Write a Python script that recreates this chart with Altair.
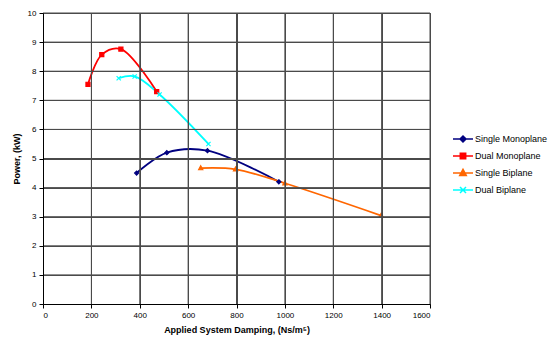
import altair as alt
import pandas as pd

series_names = ["Single Monoplane", "Dual Monoplane", "Single Biplane", "Dual Biplane"]
series_colors = ["#000080", "#FF0000", "#FF6600", "#00FFFF"]

sm_x = [387, 512, 680, 975]
sm_y = [4.5, 5.2, 5.27, 4.2]
dm_x = [186, 243, 322, 470]
dm_y = [7.55, 8.57, 8.76, 7.3]
sb_x = [652, 796, 1000, 1398]
sb_y = [4.67, 4.63, 4.15, 3.04]
db_x = [313, 379, 482, 684]
db_y = [7.76, 7.82, 7.2, 5.5]

x_ticks = [0, 200, 400, 600, 800, 1000, 1200, 1400, 1600]
y_ticks = [0, 1, 2, 3, 4, 5, 6, 7, 8, 9, 10]

rows = []
for name, xs, ys in zip(series_names, [sm_x, dm_x, sb_x, db_x], [sm_y, dm_y, sb_y, db_y]):
    for i, (a, b) in enumerate(zip(xs, ys)):
        rows.append({"series": name, "x": a, "y": b, "i": i})
df = pd.DataFrame(rows)
xgrid_df = pd.DataFrame({"gx": x_ticks[1:]})
ygrid_df = pd.DataFrame({"gy": y_ticks[1:]})

point_paths = [
    "M0,-1L1,0L0,1L-1,0Z",
    "M-1,-1H1V1H-1Z",
    "M0,-1.1L1,0.8L-1,0.8Z",
    "M-1,-1L1,1M-1,1L1,-1",
]
legend_paths = [
    "M-1,0H1M0,-0.3L0.3,0L0,0.3L-0.3,0Z",
    "M-1,0H1M-0.27,-0.27H0.27V0.27H-0.27Z",
    "M-1,0H1M0,-0.36L0.33,0.26L-0.33,0.26Z",
    "M-1,0H1M-0.3,-0.3L0.3,0.3M-0.3,0.3L0.3,-0.3",
]

FONT = "Liberation Sans"
GRID = "#4a4a4a"

x_axis = alt.Axis(values=x_ticks, format="d", title="Applied System Damping, (Ns/m⁵)",
                  grid=True, gridColor=GRID, gridWidth=1, gridOpacity=1, zindex=1,
                  titleFont=FONT, titleFontSize=9, titleFontWeight="bold",
                  titleColor="#000", titlePadding=6,
                  labelFont=FONT, labelFontSize=8, labelColor="#000",
                  labelPadding=3, tickSize=4, tickColor="#000",
                  domainColor="#000")
y_axis = alt.Axis(values=y_ticks, format="d", title="Power, (kW)",
                  grid=True, gridColor=GRID, gridWidth=1, gridOpacity=1, zindex=1,
                  titleFont=FONT, titleFontSize=9, titleFontWeight="bold",
                  titleColor="#000", titlePadding=6,
                  labelFont=FONT, labelFontSize=8, labelColor="#000",
                  labelPadding=3, tickSize=4, tickColor="#000",
                  domainColor="#000")

x_scale = alt.Scale(domain=[0, 1600], nice=False)
y_scale = alt.Scale(domain=[0, 10], nice=False)
x_enc = alt.X("x:Q", scale=x_scale, axis=x_axis)
y_enc = alt.Y("y:Q", scale=y_scale, axis=y_axis)

xgrid = alt.Chart(xgrid_df).mark_rule(stroke=GRID, strokeWidth=1, opacity=1).encode(
    x=alt.X("gx:Q", scale=x_scale, axis=x_axis)
)
ygrid = alt.Chart(ygrid_df).mark_rule(stroke=GRID, strokeWidth=1, opacity=1).encode(
    y=alt.Y("gy:Q", scale=y_scale, axis=y_axis)
)

base = alt.Chart(df)

lines = base.mark_line(interpolate="catmull-rom", strokeWidth=1.8).encode(
    x=x_enc, y=y_enc,
    color=alt.Color("series:N", scale=alt.Scale(domain=series_names, range=series_colors), legend=None),
    detail="series:N",
    order="i:Q",
)

points = base.mark_point(opacity=1, strokeWidth=1.2).encode(
    x=x_enc, y=y_enc,
    fill=alt.Fill("series:N", scale=alt.Scale(domain=series_names, range=series_colors), legend=None),
    stroke=alt.Stroke("series:N", scale=alt.Scale(domain=series_names, range=series_colors), legend=None),
    shape=alt.Shape("series:N", scale=alt.Scale(domain=series_names, range=point_paths), legend=None),
    size=alt.Size("series:N", scale=alt.Scale(domain=series_names, range=[16, 18, 22, 20]), legend=None),
)

legend_layer = base.transform_filter("datum.x < 0").mark_point(opacity=1, strokeWidth=1.5, size=400).encode(
    x=x_enc, y=y_enc,
    fill=alt.Fill("series:N", scale=alt.Scale(domain=series_names, range=series_colors),
                  legend=alt.Legend(title=None)),
    stroke=alt.Stroke("series:N", scale=alt.Scale(domain=series_names, range=series_colors),
                      legend=alt.Legend(title=None)),
    shape=alt.Shape("series:N", scale=alt.Scale(domain=series_names, range=legend_paths),
                    legend=alt.Legend(title=None, orient="none", legendX=409, legendY=115,
                                      symbolSize=400, symbolStrokeWidth=1.5,
                                      labelFont=FONT, labelFontSize=9, labelColor="#000",
                                      labelOffset=1, rowPadding=-5, symbolOpacity=1)),
)

chart = alt.layer(lines, points, legend_layer, xgrid, ygrid).resolve_scale(
    fill="independent", stroke="independent", shape="independent", size="independent", color="independent"
).properties(
    width=387, height=291,
    autosize=alt.AutoSizeParams(type="none"),
    padding={"left": 43, "top": 13, "right": 121, "bottom": 41},
    background="white",
).configure_view(stroke="#808080", strokeWidth=1)

chart.save("out.html", embed_options={"renderer": "svg", "actions": False})
